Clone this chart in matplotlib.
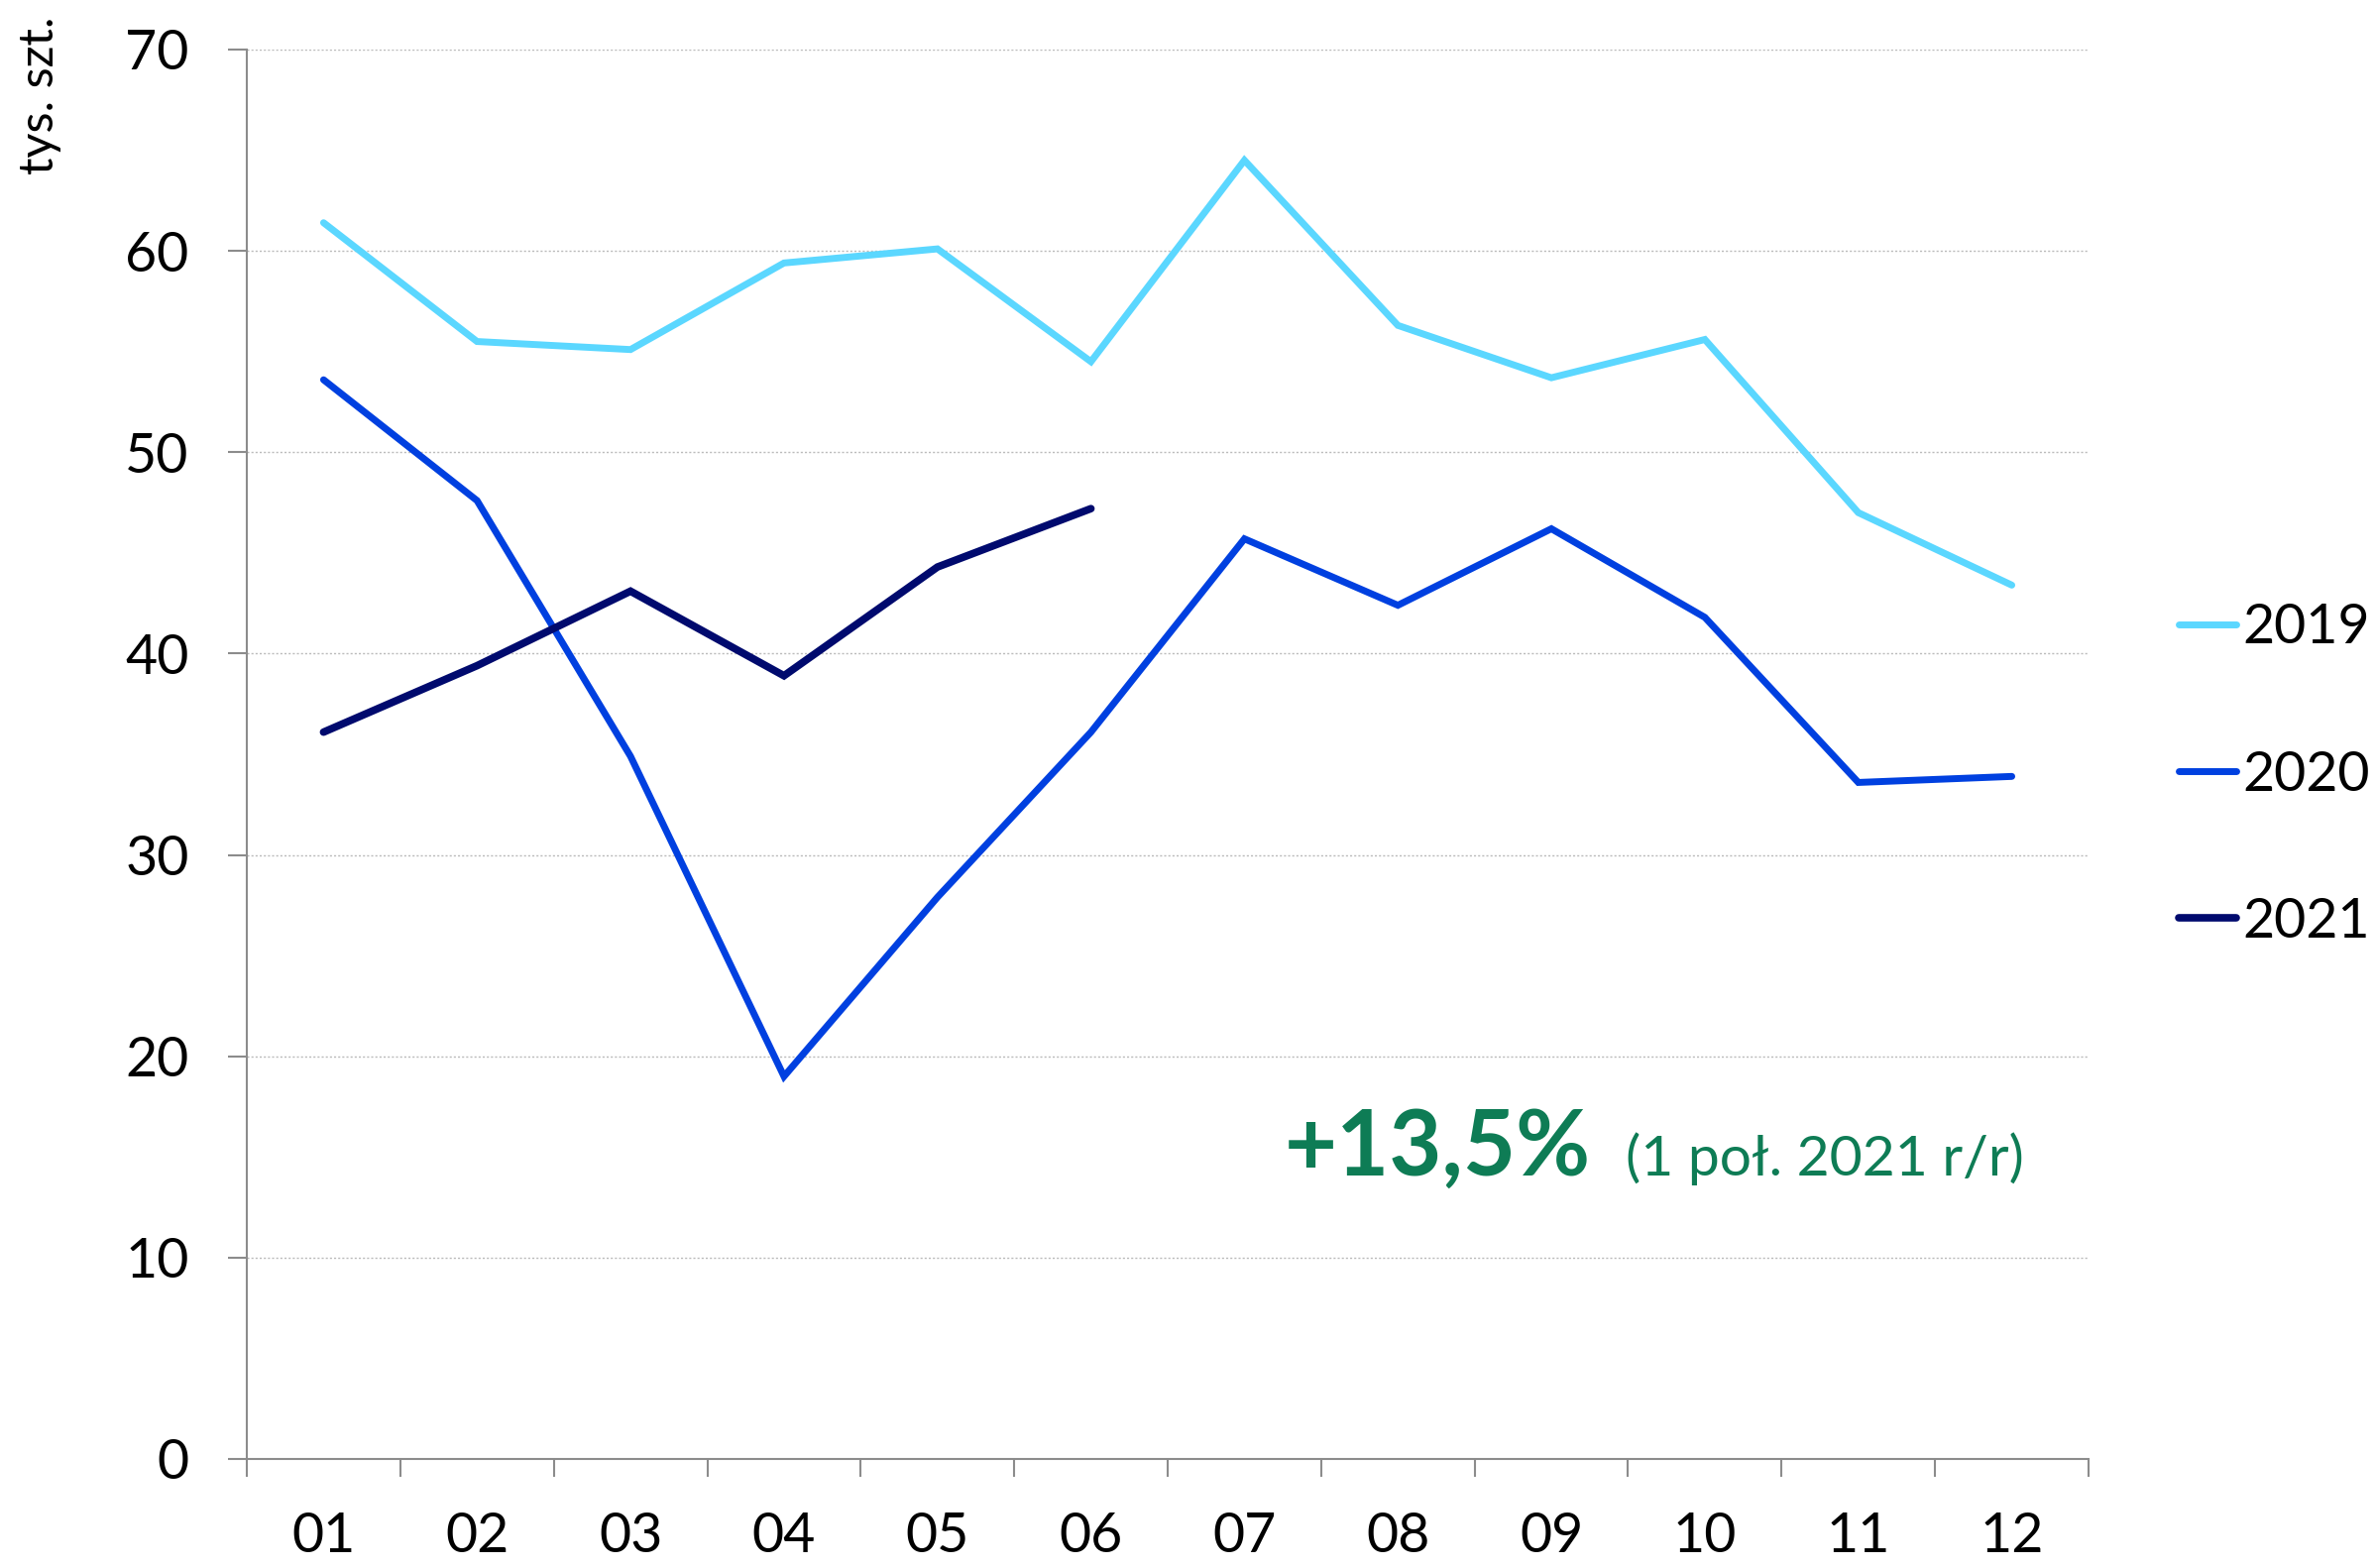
import matplotlib
matplotlib.use("Agg")
import matplotlib.pyplot as plt
from matplotlib.ticker import FixedLocator

plt.rcParams['font.family'] = ['Lato', 'DejaVu Sans']

months = ["01", "02", "03", "04", "05", "06", "07", "08", "09", "10", "11", "12"]
s2019 = [61.4, 55.5, 55.1, 59.4, 60.1, 54.5, 64.5, 56.3, 53.7, 55.6, 47.0, 43.4]
s2020 = [53.6, 47.6, 34.9, 19.0, 27.9, 36.1, 45.7, 42.4, 46.2, 41.8, 33.6, 33.9]
s2021 = [36.1, 39.4, 43.1, 38.9, 44.3, 47.2]
series_labels = ["2019", "2020", "2021"]
yticks = [0, 10, 20, 30, 40, 50, 60, 70]
ylabel = "tys. szt."
note_big = "+13,5%"
note_small = "(1 poł. 2021 r/r)"

colors = ["#5BD7FF", "#0040E0", "#000A6E"]
green = "#0E7C55"
axis_gray = "#8C8C8C"

W, H = 2397, 1582
fig = plt.figure(figsize=(W / 100, H / 100), dpi=100)
ax = fig.add_axes([249 / W, 1 - 1472 / H, (2107 - 249) / W, (1472 - 50) / H])

x = list(range(1, len(months) + 1))
lines = []
for vals, c, lab, lw in zip([s2019, s2020, s2021], colors, series_labels, [5, 5, 5.5]):
    ln, = ax.plot(x[:len(vals)], vals, color=c, lw=lw, label=lab,
                  solid_joinstyle='miter', solid_capstyle='round')
    lines.append(ln)

ax.set_xlim(0.5, 12.5)
ax.set_ylim(0, 70)
ax.set_yticks(yticks)
ax.set_yticklabels([str(v) for v in yticks])
ax.set_xticks(x)
ax.set_xticklabels(months)
ax.xaxis.set_minor_locator(FixedLocator([i + 0.5 for i in range(0, 13)]))

ax.tick_params(axis='x', which='major', length=0, pad=38, labelsize=40)
ax.tick_params(axis='x', which='minor', length=13, width=1.5, color=axis_gray)
ax.tick_params(axis='y', which='major', length=14, width=1.5, color=axis_gray,
               pad=28, labelsize=40)

for sp in ["top", "right"]:
    ax.spines[sp].set_visible(False)
for sp in ["left", "bottom"]:
    ax.spines[sp].set_color(axis_gray)
    ax.spines[sp].set_linewidth(1.5)

ax.yaxis.grid(True, linestyle=(0, (1.5, 1.5)), color="#BBBBBB", lw=1.0)
ax.set_axisbelow(True)

fig.text(40 / W, 1 - 16 / H, ylabel, rotation=90, ha='center', va='top', fontsize=35)

fig.legend(handles=lines, labels=series_labels, loc='center left',
           bbox_to_anchor=(2198 / W, 1 - 782 / H), frameon=False, fontsize=40,
           handlelength=1.05, handletextpad=0.1, labelspacing=1.75,
           borderpad=0, borderaxespad=0)

ax.text((1296 - 249) / 1858, (1472 - 1186) / 1422, note_big, transform=ax.transAxes,
        fontsize=66, fontweight='bold', color=green, ha='left', va='baseline')
ax.text((1640 - 249) / 1858, (1472 - 1186) / 1422, note_small, transform=ax.transAxes,
        fontsize=41, color=green, ha='left', va='baseline')

fig.savefig("out.png", dpi=100)
